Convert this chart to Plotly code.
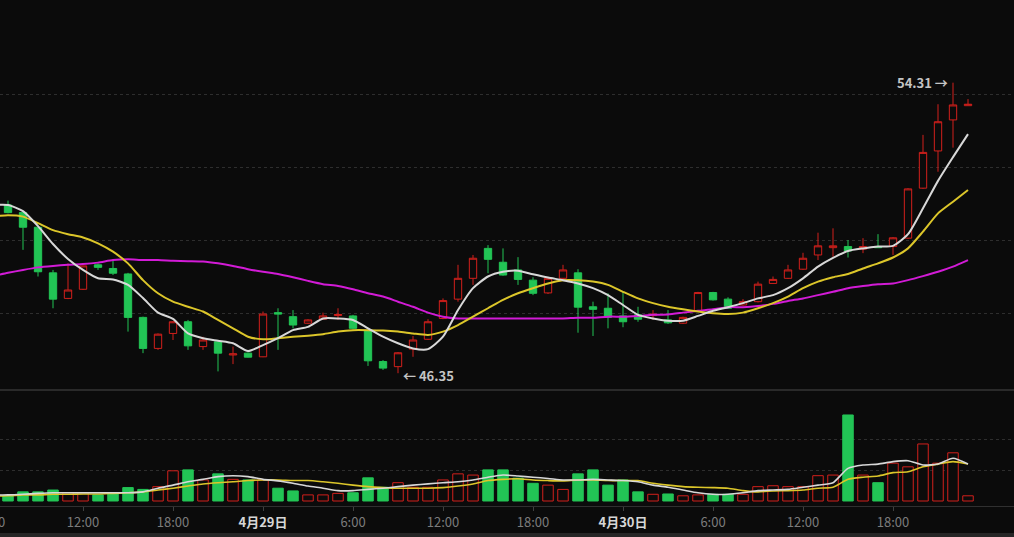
import pandas as pd
import plotly.graph_objects as go

# ---------------- data ----------------
times = pd.date_range("2024-04-28 07:00", periods=65, freq="h")
ma_times = pd.date_range("2024-04-28 06:00", periods=66, freq="h")

open_ = [50.96, 50.75, 50.35, 49.10, 48.40, 48.65, 49.32, 49.22, 49.07, 47.88,
         47.03, 47.44, 47.76, 47.08, 47.21, 46.85, 46.90, 46.80, 48.01, 47.90,
         47.72, 47.83, 47.93, 47.92, 47.52, 46.67, 46.53, 47.01, 47.28, 47.85,
         48.38, 48.95, 49.77, 49.39, 49.18, 48.90, 48.55, 48.95, 49.10, 48.17,
         48.13, 47.92, 47.95, 47.93, 47.81, 47.72, 48.06, 48.56, 48.38, 48.22,
         48.31, 48.81, 48.95, 49.20, 49.59, 49.79, 49.82, 49.75, 49.82, 49.82,
         50.05, 51.42, 52.44, 53.29, 53.68]
close = [50.75, 50.35, 49.13, 48.38, 48.63, 49.29, 49.25, 49.09, 47.88, 47.03,
         47.42, 47.76, 47.10, 47.26, 46.90, 46.88, 46.79, 47.97, 47.97, 47.67,
         47.81, 47.92, 47.96, 47.58, 46.69, 46.49, 46.91, 47.26, 47.76, 48.34,
         48.95, 49.50, 49.47, 49.04, 48.92, 48.54, 48.95, 49.18, 48.16, 48.10,
         47.88, 47.76, 47.83, 47.97, 47.73, 47.88, 48.56, 48.36, 48.13, 48.31,
         48.79, 48.92, 49.18, 49.50, 49.84, 49.84, 49.70, 49.82, 49.79, 50.06,
         51.40, 52.40, 53.24, 53.70, 53.72]
high = [51.08, 50.78, 50.35, 49.18, 49.36, 49.30, 49.36, 49.45, 49.10, 47.90,
        47.44, 47.78, 47.81, 47.35, 47.22, 47.08, 46.92, 48.04, 48.13, 48.08,
        47.83, 48.01, 48.13, 47.95, 47.55, 46.71, 46.93, 47.37, 47.83, 48.40,
        49.32, 49.59, 49.86, 49.77, 49.53, 48.98, 48.98, 49.32, 49.20, 48.31,
        48.54, 48.58, 48.17, 48.08, 48.08, 47.90, 48.58, 48.58, 48.43, 48.38,
        48.86, 49.00, 49.32, 49.65, 50.20, 50.32, 50.00, 50.05, 50.16, 50.08,
        51.42, 52.88, 53.72, 54.31, 53.86]
low = [50.73, 49.73, 49.00, 48.13, 48.38, 48.63, 49.18, 49.04, 47.49, 46.90,
       46.99, 47.26, 46.99, 46.99, 46.40, 46.60, 46.78, 46.79, 46.99, 47.58,
       47.70, 47.82, 47.81, 47.55, 46.55, 46.44, 46.35, 46.80, 47.26, 47.83,
       48.31, 48.77, 49.09, 49.02, 48.77, 48.49, 48.52, 48.93, 47.46, 47.37,
       47.58, 47.61, 47.76, 47.81, 47.70, 47.70, 48.04, 48.34, 48.11, 48.20,
       48.29, 48.80, 48.93, 49.18, 49.45, 49.54, 49.52, 49.64, 49.78, 49.59,
       50.03, 51.40, 51.87, 52.53, 53.68]

ma5 = [50.96, 50.96, 50.79, 50.38, 49.89, 49.48, 49.18, 48.95, 48.92, 48.77, 48.41,
       48.01, 47.84, 47.44, 47.31, 47.24, 47.17, 46.96, 47.12, 47.31, 47.53,
       47.62, 47.85, 47.85, 47.81, 47.58, 47.35, 47.17, 47.03, 47.01, 47.35,
       48.08, 48.68, 49.00, 49.13, 49.16, 49.06, 48.97, 48.90, 48.81, 48.68,
       48.49, 48.22, 47.95, 47.85, 47.79, 47.79, 47.92, 48.06, 48.16, 48.27,
       48.40, 48.49, 48.68, 48.95, 49.27, 49.51, 49.70, 49.77, 49.82, 49.84,
       50.16, 50.87, 51.62, 52.27, 52.90]
ma10 = [50.64, 50.68, 50.64, 50.46, 50.27, 50.16, 50.07, 49.91, 49.68, 49.36, 48.90,
        48.54, 48.31, 48.17, 48.04, 47.81, 47.58, 47.35, 47.28, 47.31, 47.35,
        47.38, 47.42, 47.49, 47.53, 47.53, 47.52, 47.49, 47.44, 47.40, 47.49,
        47.67, 47.90, 48.13, 48.36, 48.54, 48.68, 48.81, 48.90, 48.90, 48.86,
        48.77, 48.58, 48.40, 48.27, 48.17, 48.10, 48.04, 47.99, 47.97, 48.01,
        48.13, 48.27, 48.45, 48.68, 48.86, 48.98, 49.07, 49.22, 49.36, 49.52,
        49.77, 50.23, 50.73, 51.05, 51.37]
ma30 = [49.01, 49.10, 49.18, 49.25, 49.29, 49.32, 49.34, 49.38, 49.45, 49.47, 49.45,
        49.45, 49.43, 49.42, 49.41, 49.36, 49.29, 49.20, 49.13, 49.07, 48.98,
        48.88, 48.79, 48.74, 48.65, 48.54, 48.45, 48.31, 48.17, 48.01, 47.90,
        47.85, 47.85, 47.85, 47.85, 47.85, 47.85, 47.85, 47.85, 47.87, 47.87,
        47.90, 47.90, 47.92, 47.95, 47.96, 48.01, 48.06, 48.10, 48.16, 48.16,
        48.19, 48.25, 48.33, 48.40, 48.49, 48.58, 48.68, 48.74, 48.79, 48.81,
        48.90, 49.01, 49.13, 49.27, 49.45]

volume = [16, 30, 30, 36, 27, 27, 20, 25, 44, 38,
          47, 99, 102, 69, 89, 71, 69, 69, 42, 33,
          20, 20, 25, 27, 76, 45, 60, 45, 45, 69,
          89, 85, 102, 102, 75, 58, 52, 38, 89, 102,
          52, 69, 30, 22, 23, 17, 20, 22, 22, 22,
          47, 50, 47, 47, 83, 85, 282, 85, 60, 124,
          112, 187, 124, 158, 17]
vol_ma5 = [20, 20, 22, 25, 27, 27, 27, 27, 27, 27, 30,
           42, 52, 63, 71, 80, 83, 80, 71, 66, 58,
           49, 42, 34, 34, 38, 42, 47, 52, 56, 60,
           63, 69, 78, 85, 82, 78, 74, 69, 69, 71,
           69, 67, 63, 52, 45, 36, 27, 22, 22, 27,
           34, 36, 38, 45, 52, 60, 107, 118, 121, 129,
           132, 118, 121, 140, 121]
vol_ma10 = [16, 17, 20, 20, 22, 22, 23, 23, 25, 27, 30,
            36, 42, 49, 56, 60, 63, 67, 69, 69, 67,
            67, 63, 58, 52, 47, 44, 42, 42, 42, 44,
            49, 56, 67, 71, 73, 69, 67, 66, 69, 69,
            67, 67, 67, 58, 52, 47, 45, 44, 42, 34,
            30, 33, 34, 36, 42, 45, 71, 78, 82, 93,
            96, 112, 121, 129, 121]

tick_vals = ["2024-04-28 12:00", "2024-04-28 18:00", "2024-04-29 00:00",
             "2024-04-29 06:00", "2024-04-29 12:00", "2024-04-29 18:00",
             "2024-04-30 00:00", "2024-04-30 06:00", "2024-04-30 12:00",
             "2024-04-30 18:00"]
tick_text = ["12:00", "18:00", "<b><span style='color:#d6d6d6'>4月29日</span></b>",
             "6:00", "12:00", "18:00", "<b><span style='color:#d6d6d6'>4月30日</span></b>",
             "6:00", "12:00", "18:00"]
price_grid = [48, 50, 52, 54]
vol_grid = [100, 200]
max_label = "<b>54.31 →</b>"
min_label = "<b>← 46.35</b>"

# ---------------- style ----------------
BG = "#0b0b0b"
RED = "#d2201c"
GREEN = "#22c455"
WHITE = "#d8d8d8"
YELLOW = "#dcc62a"
MAGENTA = "#d21bd6"
FONT = "Noto Sans CJK SC, Noto Sans, sans-serif"

fig = go.Figure()

fig.add_trace(go.Candlestick(
    x=times, open=open_, high=high, low=low, close=close,
    increasing=dict(line=dict(color=RED, width=1), fillcolor=BG),
    decreasing=dict(line=dict(color=GREEN, width=1), fillcolor=GREEN),
    whiskerwidth=0, xaxis="x2", yaxis="y2", showlegend=False,
))
for vals, col in [(ma30, MAGENTA), (ma10, YELLOW), (ma5, WHITE)]:
    fig.add_trace(go.Scatter(x=ma_times, y=vals, mode="lines",
                             line=dict(color=col, width=2, shape="spline", smoothing=0.6),
                             xaxis="x2", yaxis="y2", showlegend=False))

up = [c >= o for o, c in zip(open_, close)]
fig.add_trace(go.Bar(
    x=times, y=volume, width=0.7 * 3600 * 1000,
    marker=dict(color=[BG if u else GREEN for u in up],
                line=dict(color=[RED if u else GREEN for u in up], width=1)),
    xaxis="x", yaxis="y", showlegend=False,
))
for vals, col in [(vol_ma10, YELLOW), (vol_ma5, WHITE)]:
    fig.add_trace(go.Scatter(x=ma_times, y=vals, mode="lines",
                             line=dict(color=col, width=1.6, shape="spline", smoothing=0.6),
                             xaxis="x", yaxis="y", showlegend=False))

xr = ["2024-04-28 06:28", "2024-05-01 02:04"]
split = 116 / 506

fig.update_layout(
    width=1014, height=537,
    margin=dict(l=0, r=0, t=0, b=31),
    paper_bgcolor=BG, plot_bgcolor=BG,
    font=dict(family=FONT, color="#7c7c7c", size=13),
    bargap=0.3,
    xaxis=dict(domain=[0, 1], range=xr, type="date", anchor="y",
               tickmode="array", tickvals=tick_vals, ticktext=tick_text,
               showgrid=False, zeroline=False, showline=True, linecolor="#303030",
               linewidth=1, ticks="outside", ticklen=4, tickcolor="#404040",
               tickfont=dict(size=13, color="#7c7c7c", family=FONT)),
    yaxis=dict(domain=[0, split], range=[-16.4, 363.9], showticklabels=False,
               tickmode="array", tickvals=vol_grid, showgrid=True,
               gridcolor="#2e2e2e", griddash="dot", gridwidth=1, zeroline=False),
    xaxis2=dict(domain=[0, 1], range=xr, type="date", anchor="y2", matches="x",
                showticklabels=False, showgrid=False, zeroline=False,
                rangeslider=dict(visible=False)),
    yaxis2=dict(domain=[split, 1], range=[45.8904, 56.5753], showticklabels=False,
                tickmode="array", tickvals=price_grid, showgrid=True,
                gridcolor="#2e2e2e", griddash="dot", gridwidth=1, zeroline=False),
    shapes=[
        dict(type="line", xref="paper", yref="paper", x0=0, x1=1, y0=split, y1=split,
             line=dict(color="#2a2a2a", width=2)),
        dict(type="rect", xref="paper", yref="paper", x0=0, x1=1,
             y0=-31 / 506, y1=-27 / 506, line=dict(width=0), fillcolor="#262626"),
    ],
    annotations=[
        dict(x=times[63], y=54.31, xref="x2", yref="y2", text=max_label,
             showarrow=False, xanchor="right", yanchor="middle", xshift=-3,
             font=dict(color="#c4c4c4", size=13, family=FONT)),
        dict(x=times[26], y=46.35, xref="x2", yref="y2", text=min_label,
             showarrow=False, xanchor="left", yanchor="middle", xshift=3, yshift=-2,
             font=dict(color="#c4c4c4", size=13, family=FONT)),
        dict(x=-8 / 1014, y=-15 / 506, xref="paper", yref="paper", text="6:00",
             showarrow=False, xanchor="center", yanchor="middle",
             font=dict(color="#7c7c7c", size=13, family=FONT)),
    ],
)

fig.write_html(
    "out.html",
    config={"displayModeBar": False},
    post_script="document.body.style.margin='0';document.body.style.overflow='hidden';"
                "document.body.style.background='#0b0b0b';",
)
